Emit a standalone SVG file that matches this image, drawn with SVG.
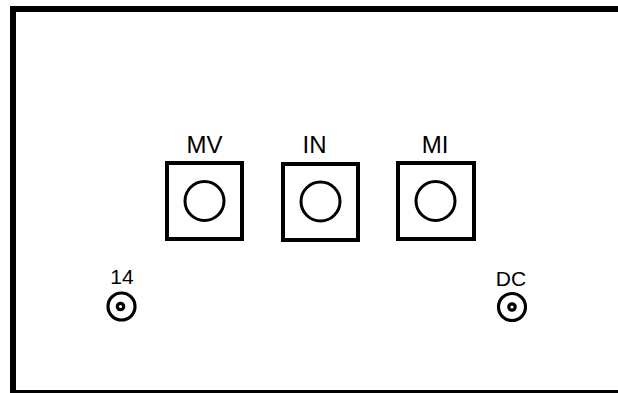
<svg xmlns="http://www.w3.org/2000/svg" width="618" height="393" viewBox="0 0 618 393">
<style>
.panel{fill:#fff;stroke:#000;stroke-width:6}
.sq{fill:none;stroke:#000;stroke-width:4}
.knob{fill:none;stroke:#000;stroke-width:3}
.jack{fill:none;stroke:#000;stroke-width:3.2}
.lbl{font-family:"Liberation Sans",Arial,sans-serif;font-size:24px;fill:#000;text-anchor:middle}
.sl{font-family:"Liberation Sans",Arial,sans-serif;font-size:21px;fill:#000;text-anchor:middle}
</style>
<rect width="618" height="393" fill="#fff"/>
<rect class="panel" x="13" y="9" width="640" height="384"/>
<g id="MV">
<rect class="sq" x="167" y="163" width="75" height="76"/>
<circle class="knob" cx="204.5" cy="201" r="19.5"/>
<text class="lbl" x="204.5" y="153">MV</text>
</g>
<g id="IN">
<rect class="sq" x="283" y="164" width="75" height="76"/>
<circle class="knob" cx="320.5" cy="201.5" r="19.5"/>
<text class="lbl" x="314.5" y="153">IN</text>
</g>
<g id="MI">
<rect class="sq" x="398" y="163" width="76" height="76"/>
<circle class="knob" cx="435.5" cy="201" r="19.5"/>
<text class="lbl" x="435" y="153">MI</text>
</g>
<g id="J14">
<circle class="jack" cx="121.5" cy="306.5" r="13.5"/>
<circle class="jack" cx="120.5" cy="306.5" r="3.2"/>
<text class="sl" x="122" y="284">14</text>
</g>
<g id="DC">
<circle class="jack" cx="512" cy="307" r="13.5"/>
<circle class="jack" cx="512" cy="307" r="3.2"/>
<text class="sl" x="511" y="286">DC</text>
</g>
<g id="connectors"/>
</svg>
